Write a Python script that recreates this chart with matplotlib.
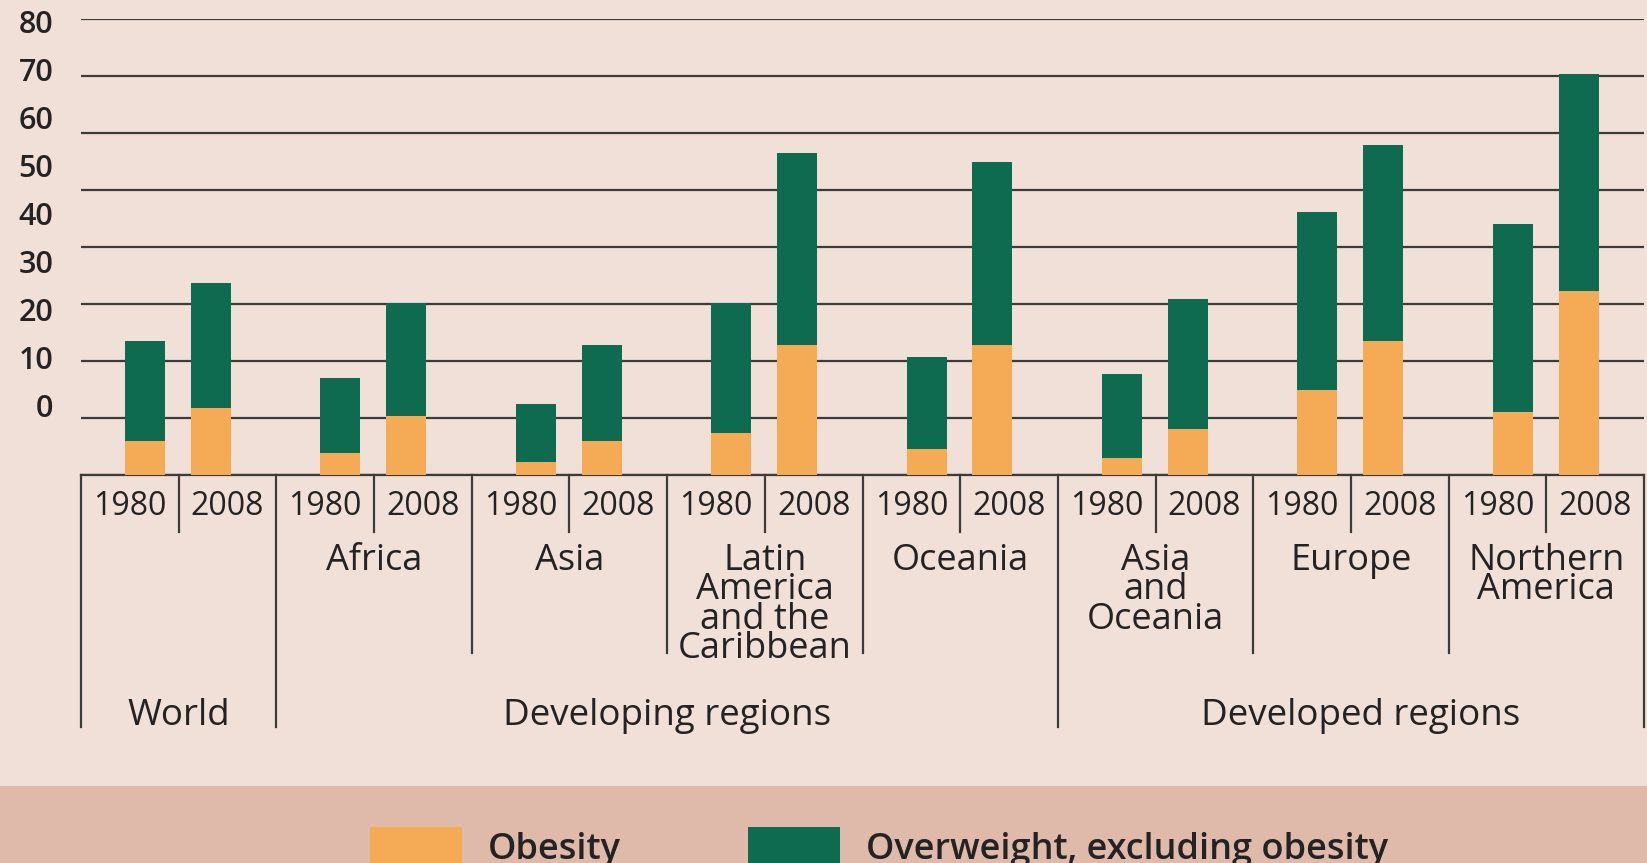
import matplotlib
matplotlib.use("Agg")
import matplotlib.pyplot as plt
import numpy as np
from matplotlib.transforms import blended_transform_factory
from matplotlib.patches import Rectangle, Patch

# ---------------- data ----------------
region_labels = ["", "Africa", "Asia", "Latin\nAmerica\nand the\nCaribbean", "Oceania",
                 "Asia\nand\nOceania", "Europe", "Northern\nAmerica"]
years = ["1980", "2008"]
obesity_1980 = [6.0, 3.8, 2.2, 7.4, 4.5, 3.0, 14.8, 11.1]
overweight_1980 = [17.5, 13.1, 10.3, 22.8, 16.1, 14.7, 31.4, 32.9]
obesity_2008 = [11.8, 10.3, 6.0, 22.8, 22.8, 8.1, 23.5, 32.3]
overweight_2008 = [21.9, 19.9, 16.8, 33.7, 32.2, 22.8, 34.4, 38.1]
super_groups = ["World", "Developing regions", "Developed regions"]
super_centers = [0.0, 2.5, 6.05]
y_ticks = [0, 10, 20, 30, 40, 50, 60, 70, 80]
legend_labels = ["Obesity", "Overweight, excluding obesity"]

# ---------------- style ----------------
BG = "#F0E0D7"
BAND = "#DFB9AA"
ORANGE = "#F5AA55"
GREEN = "#0E6B50"
LINE = "#3E3B3B"
TXT = "#242222"
FONT = ["Open Sans", "DejaVu Sans"]

W, H = 1647, 863
fig = plt.figure(figsize=(W / 100, H / 100), dpi=100, facecolor=BG)

def fy(p):
    return 1 - p / H

ax_left, ax_right, ax_top, ax_bottom = 81, 1644, 19.3, 474.7
pos = [ax_left / W, fy(ax_bottom), (ax_right - ax_left) / W, (ax_bottom - ax_top) / H]
ax = fig.add_axes(pos)
ax.set_facecolor("none")
ax.set_xlim(-0.5, 7.5)
ax.set_ylim(0, 80)
ax.set_yticks(y_ticks)
ax.tick_params(axis="y", length=0, labelleft=False)
ax.set_xticks([])
ax.yaxis.grid(True, color=LINE, lw=1.6)
ax.set_axisbelow(True)
for s in ["top", "left", "right"]:
    ax.spines[s].set_visible(False)
ax.spines["bottom"].set_color(LINE)
ax.spines["bottom"].set_linewidth(1.6)

x = np.arange(len(region_labels))
off80, off08, bw = -0.172, 0.165, 0.205
ax.bar(x + off80, obesity_1980, width=bw, color=ORANGE, zorder=3)
ax.bar(x + off80, overweight_1980, bottom=obesity_1980, width=bw, color=GREEN, zorder=3)
ax.bar(x + off08, obesity_2008, width=bw, color=ORANGE, zorder=3)
ax.bar(x + off08, overweight_2008, bottom=obesity_2008, width=bw, color=GREEN, zorder=3)

# y tick labels (offset from gridlines as in the original)
ax2 = fig.add_axes(pos)
ax2.set_facecolor("none")
ax2.set_ylim(-14.375, 80.5)
ax2.set_xticks([])
ax2.set_yticks(y_ticks)
ax2.set_yticklabels([str(v) for v in y_ticks], fontsize=22, color=TXT,
                    family=FONT, fontweight="semibold")
ax2.tick_params(axis="y", length=0, pad=20)
for s in ax2.spines.values():
    s.set_visible(False)

# category table below the axis
T = blended_transform_factory(ax.transData, fig.transFigure)
long_lines = [-0.5, 0.5, 4.5, 7.5]
mid_lines = [1.5, 2.5, 3.5, 5.5, 6.5]
for xv in long_lines:
    ax.plot([xv, xv], [fy(ax_bottom), fy(727)], color=LINE, lw=1.6, transform=T, clip_on=False)
for xv in mid_lines:
    ax.plot([xv, xv], [fy(ax_bottom), fy(653)], color=LINE, lw=1.6, transform=T, clip_on=False)
for xv in x:
    ax.plot([xv, xv], [fy(ax_bottom), fy(532)], color=LINE, lw=1.6, transform=T, clip_on=False)

for xv in x:
    for dx, yl in zip([-0.25, 0.25], years):
        ax.text(xv + dx, fy(515), yl, transform=T, ha="center", va="baseline",
                fontsize=23, color=TXT, family=FONT)
    if region_labels[xv]:
        ax.text(xv, fy(543), region_labels[xv], transform=T, ha="center", va="top",
                fontsize=26, color=TXT, family=FONT, linespacing=0.755, multialignment="center")

for name, xc in zip(super_groups, super_centers):
    ax.text(xc, fy(725), name, transform=T, ha="center", va="baseline",
            fontsize=26.5, color=TXT, family=FONT)

# legend band
fig.patches.append(Rectangle((0, 0), 1, fy(786), transform=fig.transFigure,
                             facecolor=BAND, edgecolor="none", zorder=0))
handles = [Patch(facecolor=ORANGE, edgecolor="none"), Patch(facecolor=GREEN, edgecolor="none")]
fig.legend(handles, legend_labels, loc="upper left", bbox_to_anchor=(370 / W, fy(827)),
           ncol=2, frameon=False, borderpad=0, borderaxespad=0,
           handlelength=2.55, handleheight=1.3, handletextpad=0.72, columnspacing=3.52,
           prop={"family": FONT, "size": 26, "weight": "semibold"}, labelcolor=TXT)

fig.savefig("out.png", dpi=100, facecolor=BG)
